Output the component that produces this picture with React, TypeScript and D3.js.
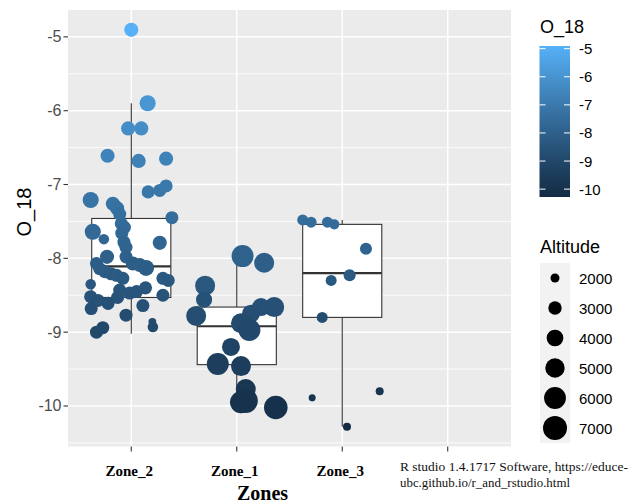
import { useEffect, useRef } from 'react'
import * as d3 from 'd3'

// categories on the x axis (the last one is empty in the original)
const zoneNames = ['Zone_2', 'Zone_1', 'Zone_3', '']

// Zone_2 points: jitter (category units), O_18, altitude
const zone2Jitter = [0.0, 0.155, -0.03, 0.095, -0.225, 0.07, 0.33, -0.385, -0.175, -0.135, -0.11, -0.095, -0.065, 0.16, 0.27, 0.33, 0.385, -0.365, -0.26, -0.09, -0.07, -0.05, 0.27, -0.23, -0.05, 0.015, 0.08, 0.14, -0.33, -0.3, -0.25, -0.19, -0.14, -0.08, 0.3, 0.35, 0.135, -0.385, -0.385, 0.3, -0.38, -0.315, -0.22, 0.11, -0.05, -0.33, -0.27, 0.205, 0.2, -0.11, -0.015, 0.05, -0.13]
const zone2O18 = [-4.905, -5.9, -6.24, -6.24, -6.61, -6.68, -6.65, -7.21, -7.26, -7.32, -7.4, -7.53, -7.58, -7.1, -7.08, -7.02, -7.45, -7.64, -7.74, -7.66, -7.78, -7.85, -7.79, -7.98, -7.98, -8.07, -8.09, -8.13, -8.07, -8.14, -8.18, -8.21, -8.23, -8.27, -8.27, -8.3, -8.4, -8.35, -8.52, -8.5, -8.68, -8.57, -8.61, -8.64, -8.77, -9.0, -8.94, -8.93, -8.86, -8.43, -8.47, -8.45, -8.53]
const zone2Alt = [3200, 3800, 3200, 3200, 3200, 3200, 3200, 3800, 3200, 3200, 2900, 2900, 2900, 2900, 2900, 2900, 2900, 3800, 2300, 2900, 2900, 2900, 3200, 3200, 2900, 3200, 3200, 3800, 2900, 2900, 2900, 2900, 2900, 2900, 2900, 2900, 2900, 2300, 2900, 2900, 2900, 2900, 2900, 2900, 2900, 2900, 2900, 2300, 1800, 2900, 2900, 2900, 2900]

// Zone_1 points
const zone1Jitter = [0.055, 0.26, -0.3, -0.31, -0.385, 0.355, 0.23, 0.135, 0.04, 0.12, -0.055, -0.18, 0.04, 0.085, 0.085, 0.04, 0.37]
const zone1O18 = [-7.97, -8.06, -8.37, -8.56, -8.78, -8.66, -8.66, -8.75, -8.88, -8.97, -9.2, -9.43, -9.46, -9.77, -9.93, -9.95, -10.02]
const zone1Alt = [6070, 5220, 5220, 3800, 5220, 5220, 4450, 4450, 5220, 6070, 4450, 6070, 5220, 5220, 7100, 6070, 6800]

// Zone_3 points
const zone3Jitter = [-0.375, -0.295, -0.14, -0.075, 0.225, 0.07, -0.105, -0.19, -0.285, 0.355, 0.045]
const zone3O18 = [-7.48, -7.51, -7.51, -7.54, -7.87, -8.23, -8.3, -8.8, -9.89, -9.8, -10.28]
const zone3Alt = [2400, 2400, 2400, 2200, 2650, 2650, 2400, 2400, 1680, 1830, 1830]

// box plot statistics per zone
const boxZones = ['Zone_2', 'Zone_1', 'Zone_3']
const boxLow = [-9.02, -9.92, -10.28]
const boxQ1 = [-8.53, -9.44, -8.8]
const boxMedian = [-8.11, -8.92, -8.2]
const boxQ3 = [-7.46, -8.66, -7.54]
const boxHigh = [-5.9, -7.97, -7.48]

const yTicks = [-5, -6, -7, -8, -9, -10]
const colorBreaks = [-5, -6, -7, -8, -9, -10]
const altitudeBreaks = [2000, 3000, 4000, 5000, 6000, 7000]

const SANS = '"Liberation Sans", Arial, sans-serif'
const SERIF = '"Liberation Serif", "Times New Roman", serif'

function App() {
  const ref = useRef<SVGSVGElement>(null)

  useEffect(() => {
    const node = ref.current
    if (!node) return
    const svg = d3.select(node)
    svg.selectAll('*').remove()

    const panel = { left: 68, right: 511, top: 10, bottom: 446.5 }

    const points = [
      ...zone2O18.map((v, i) => ({ zone: 'Zone_2', j: zone2Jitter[i], v, alt: zone2Alt[i] })),
      ...zone1O18.map((v, i) => ({ zone: 'Zone_1', j: zone1Jitter[i], v, alt: zone1Alt[i] })),
      ...zone3O18.map((v, i) => ({ zone: 'Zone_3', j: zone3Jitter[i], v, alt: zone3Alt[i] })),
    ]

    const ext = d3.extent(points, (d) => d.v) as [number, number]
    const pad = (ext[1] - ext[0]) * 0.05

    const x = d3.scalePoint<string>().domain(zoneNames).range([panel.left, panel.right]).padding(0.6)
    const step = x.step()
    const y = d3.scaleLinear().domain([ext[0] - pad, ext[1] + pad]).range([panel.bottom, panel.top])
    const color = d3.scaleLinear<string>().domain(ext).range(['#132B43', '#56B1F7']).interpolate(d3.interpolateLab)
    const area = d3.scaleLinear().domain([2000, 7000]).range([20.25, 144])
    const radius = (a: number) => Math.sqrt(Math.max(area(a), 4))

    // panel
    svg.append('rect')
      .attr('x', panel.left).attr('y', panel.top)
      .attr('width', panel.right - panel.left).attr('height', panel.bottom - panel.top)
      .attr('fill', '#EBEBEB')

    const grid = svg.append('g').attr('stroke', '#FFFFFF')
    grid.selectAll('line.minor')
      .data(d3.range(-10.5, -5, 1))
      .enter().append('line')
      .attr('x1', panel.left).attr('x2', panel.right)
      .attr('y1', (d) => y(d)).attr('y2', (d) => y(d))
      .attr('stroke-width', 0.8)
    grid.selectAll('line.major')
      .data(yTicks)
      .enter().append('line')
      .attr('x1', panel.left).attr('x2', panel.right)
      .attr('y1', (d) => y(d)).attr('y2', (d) => y(d))
      .attr('stroke-width', 1.5)
    grid.selectAll('line.vert')
      .data(zoneNames)
      .enter().append('line')
      .attr('x1', (d) => x(d)!).attr('x2', (d) => x(d)!)
      .attr('y1', panel.top).attr('y2', panel.bottom)
      .attr('stroke-width', 1.5)

    // boxes
    const boxes = svg.append('g').attr('stroke', '#333333').attr('fill', '#FFFFFF')
    boxZones.forEach((z, i) => {
      const cx = x(z)!
      const g = boxes.append('g')
      g.append('line').attr('x1', cx).attr('x2', cx).attr('y1', y(boxHigh[i])).attr('y2', y(boxQ3[i])).attr('stroke-width', 1.1)
      g.append('line').attr('x1', cx).attr('x2', cx).attr('y1', y(boxQ1[i])).attr('y2', y(boxLow[i])).attr('stroke-width', 1.1)
      g.append('rect')
        .attr('x', cx - step * 0.375).attr('width', step * 0.75)
        .attr('y', y(boxQ3[i])).attr('height', y(boxQ1[i]) - y(boxQ3[i]))
        .attr('stroke-width', 1.1)
      g.append('line')
        .attr('x1', cx - step * 0.375).attr('x2', cx + step * 0.375)
        .attr('y1', y(boxMedian[i])).attr('y2', y(boxMedian[i]))
        .attr('stroke-width', 2.2)
    })

    // jittered points
    svg.append('g')
      .selectAll('circle')
      .data(points)
      .enter().append('circle')
      .attr('cx', (d) => x(d.zone)! + d.j * step)
      .attr('cy', (d) => y(d.v))
      .attr('r', (d) => radius(d.alt))
      .attr('fill', (d) => color(d.v))

    // y axis
    const yAxis = svg.append('g')
    yAxis.selectAll('line')
      .data(yTicks)
      .enter().append('line')
      .attr('x1', panel.left - 4.5).attr('x2', panel.left)
      .attr('y1', (d) => y(d)).attr('y2', (d) => y(d))
      .attr('stroke', '#333333').attr('stroke-width', 1.1)
    yAxis.selectAll('text')
      .data(yTicks)
      .enter().append('text')
      .attr('x', panel.left - 6.5).attr('y', (d) => y(d))
      .attr('text-anchor', 'end').attr('dominant-baseline', 'central')
      .attr('font-family', SANS).attr('font-size', 16).attr('fill', '#4D4D4D')
      .text((d) => String(d))

    svg.append('text')
      .attr('transform', 'translate(30.5,212) rotate(-90)')
      .attr('text-anchor', 'middle')
      .attr('font-family', SANS).attr('font-size', 20).attr('fill', '#000000')
      .text('O_18')

    // x axis
    const xAxis = svg.append('g')
    xAxis.selectAll('line')
      .data(zoneNames)
      .enter().append('line')
      .attr('x1', (d) => x(d)!).attr('x2', (d) => x(d)!)
      .attr('y1', panel.bottom).attr('y2', panel.bottom + 5)
      .attr('stroke', '#333333').attr('stroke-width', 1.1)
    xAxis.selectAll('text')
      .data(zoneNames)
      .enter().append('text')
      .attr('x', (d) => x(d)! - 2).attr('y', 476)
      .attr('text-anchor', 'middle')
      .attr('font-family', SERIF).attr('font-weight', 'bold').attr('font-size', 15).attr('fill', '#000000')
      .text((d) => d)

    svg.append('text')
      .attr('x', 262.5).attr('y', 500)
      .attr('text-anchor', 'middle')
      .attr('font-family', SERIF).attr('font-weight', 'bold').attr('font-size', 20).attr('fill', '#000000')
      .text('Zones')

    // colour legend
    svg.append('text')
      .attr('x', 540).attr('y', 33)
      .attr('font-family', SANS).attr('font-size', 18).attr('fill', '#000000')
      .text('O_18')

    const bar = { x: 539.5, w: 30.5, top: 46, bottom: 197 }
    const barY = d3.scaleLinear().domain(ext).range([bar.bottom, bar.top])
    const grad = svg.append('defs').append('linearGradient')
      .attr('id', 'o18grad').attr('x1', 0).attr('x2', 0).attr('y1', 1).attr('y2', 0)
    d3.range(0, 1.0001, 0.05).forEach((t) => {
      grad.append('stop').attr('offset', t).attr('stop-color', color(ext[0] + t * (ext[1] - ext[0])))
    })
    svg.append('rect')
      .attr('x', bar.x).attr('y', bar.top).attr('width', bar.w).attr('height', bar.bottom - bar.top)
      .attr('fill', 'url(#o18grad)')
    const cticks = svg.append('g').attr('stroke', '#FFFFFF').attr('stroke-width', 1)
    colorBreaks.forEach((b) => {
      cticks.append('line').attr('x1', bar.x).attr('x2', bar.x + 6).attr('y1', barY(b)).attr('y2', barY(b))
      cticks.append('line').attr('x1', bar.x + bar.w - 6).attr('x2', bar.x + bar.w).attr('y1', barY(b)).attr('y2', barY(b))
    })
    svg.append('g')
      .selectAll('text')
      .data(colorBreaks)
      .enter().append('text')
      .attr('x', 579).attr('y', (d) => barY(d))
      .attr('dominant-baseline', 'central')
      .attr('font-family', SANS).attr('font-size', 15).attr('fill', '#000000')
      .text((d) => String(d))

    // size legend
    svg.append('text')
      .attr('x', 540).attr('y', 253)
      .attr('font-family', SANS).attr('font-size', 18).attr('fill', '#000000')
      .text('Altitude')

    const keyTop = 263
    const keyH = 30
    svg.append('rect')
      .attr('x', 540).attr('y', keyTop).attr('width', 30).attr('height', keyH * altitudeBreaks.length)
      .attr('fill', '#F2F2F2')
    const keys = svg.append('g')
    altitudeBreaks.forEach((a, i) => {
      const cy = keyTop + keyH * i + keyH / 2
      keys.append('circle').attr('cx', 555).attr('cy', cy).attr('r', radius(a)).attr('fill', '#000000')
      keys.append('text')
        .attr('x', 579).attr('y', cy)
        .attr('dominant-baseline', 'central')
        .attr('font-family', SANS).attr('font-size', 15).attr('fill', '#000000')
        .text(String(a))
    })

    // source note
    svg.append('text')
      .attr('x', 400).attr('y', 470.5)
      .attr('font-family', SERIF).attr('font-size', 13.4).attr('fill', '#111111')
      .attr('textLength', 228).attr('lengthAdjust', 'spacingAndGlyphs')
      .text('R studio 1.4.1717 Software, https://educe-')
    svg.append('text')
      .attr('x', 400).attr('y', 486.5)
      .attr('font-family', SERIF).attr('font-size', 13.4).attr('fill', '#111111')
      .attr('textLength', 170).attr('lengthAdjust', 'spacingAndGlyphs')
      .text('ubc.github.io/r_and_rstudio.html')
  }, [])

  return (
    <div style={{ position: 'absolute', left: 0, top: 0 }}>
      <svg ref={ref} width={632} height={504} style={{ display: 'block', background: '#FFFFFF' }} />
    </div>
  )
}

export default App
